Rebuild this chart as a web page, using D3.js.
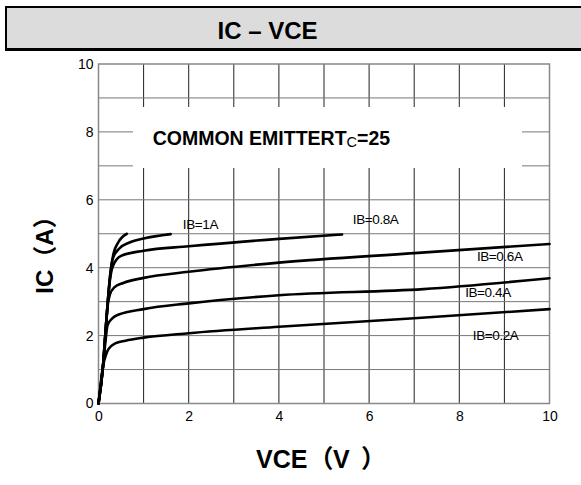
<!DOCTYPE html>
<html>
<head>
<meta charset="utf-8">
<script src="https://cdn.jsdelivr.net/npm/d3@7"></script>
<style>
	body { margin: 0; background: #fff; }
	svg { display: block; font-family: "Liberation Sans", Arial, "Noto Sans CJK SC", sans-serif; }
</style>
</head>
<body>
<div id="chart"></div>
<script>
// IC - VCE output characteristics, [VCE (V), IC (A)]
const ibSat = [[0,0],[0.1,1.1],[0.15,2.0],[0.2,2.9],[0.27,3.9],[0.33,4.4],[0.44,4.75],[0.63,5.0]];
const ib10 = [[0,0],[0.1,1.1],[0.15,2.0],[0.2,2.9],[0.26,3.8],[0.32,4.28],[0.45,4.55],[0.7,4.75],[1,4.86],[1.6,4.99]];
const ib08 = [[0,0],[0.1,1.1],[0.15,2.0],[0.2,2.9],[0.26,3.7],[0.32,4.05],[0.5,4.35],[1,4.5],[2,4.63],[4,4.85],[5.4,4.98]];
const ib06 = [[0,0],[0.1,1.1],[0.15,2.0],[0.2,2.85],[0.25,3.2],[0.35,3.42],[0.55,3.55],[1,3.7],[2,3.88],[4,4.15],[7,4.43],[10,4.7]];
const ib04 = [[0,0],[0.1,1.1],[0.16,1.9],[0.2,2.3],[0.3,2.5],[0.45,2.62],[1,2.78],[2,2.95],[4,3.19],[7.2,3.37],[10,3.69]];
const ib02 = [[0,0],[0.1,1.1],[0.17,1.45],[0.22,1.6],[0.37,1.77],[0.6,1.85],[1,1.94],[2,2.07],[4,2.26],[7,2.51],[10,2.78]];

const curves = [ibSat, ib10, ib08, ib06, ib04, ib02];
const curveLabels = ['IB=1A', 'IB=0.8A', 'IB=0.6A', 'IB=0.4A', 'IB=0.2A'];
const xTicks = [0, 2, 4, 6, 8, 10];
const yTicks = [0, 2, 4, 6, 8, 10];
const gridSteps = [1, 2, 3, 4, 5, 6, 7, 8, 9];

// label anchors in data units (VCE, IC)
const labelAt = [[1.87, 5.14], [5.64, 5.29], [8.39, 4.2], [8.13, 3.14], [8.3, 1.87]];

const W = 581, H = 485;
const plot = { left: 98.5, right: 549.5, top: 64, bottom: 403.5 };

const svg = d3.select('#chart').append('svg')
	.attr('width', W).attr('height', H);

svg.append('rect').attr('width', W).attr('height', H).attr('fill', '#fff');

// title bar
svg.append('rect')
	.attr('x', 6).attr('y', 7)
	.attr('width', 590).attr('height', 42.5)
	.attr('fill', '#dcdcdc')
	.attr('stroke', '#000').attr('stroke-width', 2);
svg.append('line')
	.attr('x1', 5).attr('x2', W).attr('y1', 49.5).attr('y2', 49.5)
	.attr('stroke', '#000').attr('stroke-width', 3);
svg.append('text')
	.attr('x', 267.5).attr('y', 38.5)
	.attr('text-anchor', 'middle')
	.attr('font-size', 24).attr('font-weight', 'bold')
	.text('IC – VCE');

let x = d3.scaleLinear().domain([0, 10]).range([plot.left, plot.right]);
let y = d3.scaleLinear().domain([0, 10]).range([plot.bottom, plot.top]);

// grid
svg.selectAll('.vgrid').data(gridSteps).enter().append('line')
	.attr('x1', d => x(d)).attr('x2', d => x(d))
	.attr('y1', plot.top).attr('y2', plot.bottom)
	.attr('stroke', '#222').attr('stroke-width', 1);
svg.selectAll('.hgrid').data(gridSteps).enter().append('line')
	.attr('x1', plot.left).attr('x2', plot.right)
	.attr('y1', d => y(d)).attr('y2', d => y(d))
	.attr('stroke', '#777').attr('stroke-width', 1);
svg.append('rect')
	.attr('x', plot.left).attr('y', plot.top)
	.attr('width', plot.right - plot.left).attr('height', plot.bottom - plot.top)
	.attr('fill', 'none').attr('stroke', '#888').attr('stroke-width', 1.5);

// legend box
svg.append('rect')
	.attr('x', 133).attr('y', 107)
	.attr('width', 389).attr('height', 61)
	.attr('fill', '#fff');
let leg = svg.append('text')
	.attr('x', 152.7).attr('y', 145)
	.attr('font-size', 19.5).attr('font-weight', 'bold');
leg.append('tspan').text('COMMON EMITTERT');
leg.append('tspan').attr('font-size', 14.5).attr('font-weight', 'normal').attr('dy', 2).text('C');
leg.append('tspan').attr('dy', -2).text('=25');

// axes
let xAxis = svg.append('g')
	.attr('transform', `translate(0,${plot.bottom})`)
	.call(d3.axisBottom(x).tickValues(xTicks).tickSize(0).tickPadding(8));
let yAxis = svg.append('g')
	.attr('transform', `translate(${plot.left},0)`)
	.call(d3.axisLeft(y).tickValues(yTicks).tickSize(0).tickPadding(5));
[xAxis, yAxis].forEach(a => {
	a.select('.domain').remove();
	a.selectAll('text')
		.attr('font-size', 14)
		.attr('font-family', '"Liberation Sans", Arial, sans-serif')
		.attr('fill', '#000');
});

// curves
let line = d3.line()
	.x(d => x(d[0]))
	.y(d => y(d[1]))
	.curve(d3.curveMonotoneX);
svg.selectAll('.curve').data(curves).enter().append('path')
	.attr('d', line)
	.attr('fill', 'none')
	.attr('stroke', '#000')
	.attr('stroke-width', 2.6)
	.attr('stroke-linecap', 'round')
	.attr('stroke-linejoin', 'round');

svg.selectAll('.lbl').data(curveLabels).enter().append('text')
	.attr('x', (d, i) => x(labelAt[i][0]))
	.attr('y', (d, i) => y(labelAt[i][1]))
	.attr('font-size', 13.5)
	.attr('letter-spacing', -0.4)
	.text(d => d);

// axis titles
let xt = svg.append('text')
	.attr('y', 468)
	.attr('font-size', 25).attr('font-weight', 'bold');
xt.append('tspan').attr('x', 256).text('VCE');
xt.append('tspan').attr('x', 308.5).text('（');
xt.append('tspan').attr('x', 333).text('V');
xt.append('tspan').attr('x', 361).text('）');
svg.append('text')
	.attr('transform', 'translate(53,249) rotate(-90)')
	.attr('text-anchor', 'middle')
	.attr('font-size', 24).attr('font-weight', 'bold')
	.text('IC（A）');
</script>
</body>
</html>
